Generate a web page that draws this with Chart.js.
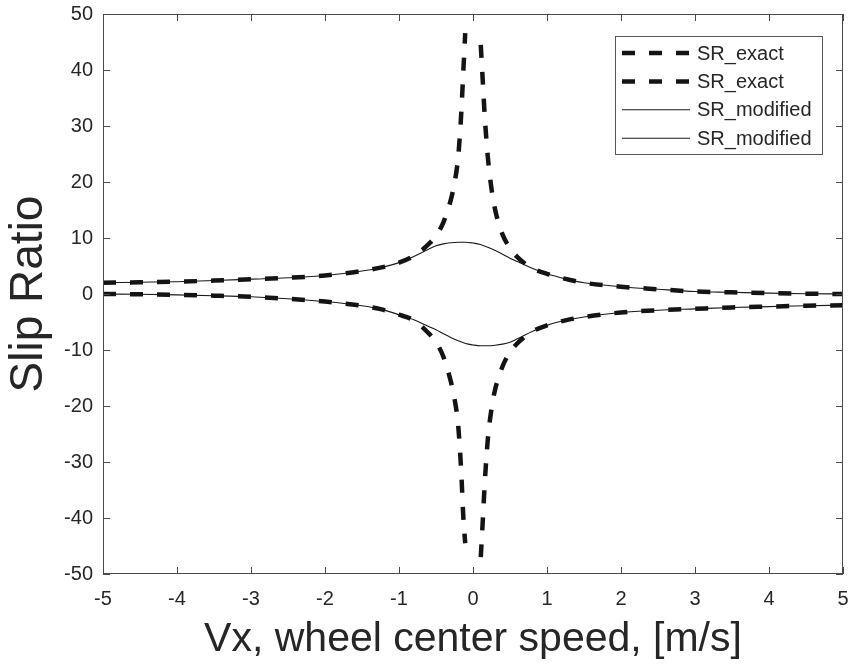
<!DOCTYPE html>
<html>
<head>
<meta charset="utf-8">
<script src="https://cdn.jsdelivr.net/npm/chart.js@4/dist/chart.umd.min.js"></script>
<style>
  html, body { margin: 0; padding: 0; background: #fff; }
  #wrap { width: 849px; height: 666px; }
</style>
</head>
<body>
<div id="wrap"><canvas id="chart" width="849" height="666"></canvas></div>
<script>
// values (null = break between the two branches)
const vxExact = [-5, -4.5, -4, -3.5, -3, -2.5, -2, -1.5, -1.25, -1, -0.8, -0.6, -0.5, -0.4, -0.3, -0.25, -0.2, -0.16, -0.13, -0.105,
  0, 0.105, 0.13, 0.16, 0.2, 0.25, 0.3, 0.4, 0.5, 0.6, 0.8, 1, 1.25, 1.5, 2, 2.5, 3, 3.5, 4, 4.5, 5];
const srExactUpper = [2.0, 2.1, 2.2, 2.4, 2.65, 2.9, 3.3, 4.1, 4.7, 5.6, 6.8, 8.9, 10.4, 12.8, 16.8, 19.8, 24.5, 32, 40, 46.6,
  null, 44.5, 38.5, 31.5, 24.5, 18.8, 15.0, 10.6, 8.2, 6.6, 4.6, 3.6, 2.7, 2.0, 1.3, 0.85, 0.45, 0.3, 0.15, 0.05, 0.0];
const srExactLower = [0.0, -0.05, -0.15, -0.3, -0.5, -0.85, -1.35, -2.1, -2.7, -3.7, -4.7, -7.0, -8.6, -11.2, -15.6, -18.7, -23.5, -31.5, -40, -44.5,
  null, -47, -41, -33.5, -26, -20.5, -17.0, -12.9, -10.4, -8.8, -6.7, -5.6, -4.7, -4.1, -3.3, -2.9, -2.65, -2.4, -2.25, -2.1, -2.0];

const vxModified = [-5, -4.5, -4, -3.5, -3, -2.5, -2, -1.5, -1.25, -1, -0.8, -0.6, -0.5, -0.4, -0.3, -0.2, -0.1,
  0, 0.1, 0.2, 0.3, 0.4, 0.5, 0.6, 0.8, 1, 1.25, 1.5, 2, 2.5, 3, 3.5, 4, 4.5, 5];
const srModifiedUpper = [2.0, 2.1, 2.2, 2.4, 2.65, 2.9, 3.3, 4.1, 4.7, 5.6, 6.7, 8.0, 8.6, 8.95, 9.15, 9.25, 9.25,
  9.1, 8.85, 8.35, 7.75, 7.1, 6.4, 5.8, 4.6, 3.6, 2.7, 2.0, 1.3, 0.85, 0.45, 0.3, 0.15, 0.05, 0.0];
const srModifiedLower = [0.0, -0.05, -0.15, -0.3, -0.5, -0.85, -1.35, -2.1, -2.7, -3.7, -4.6, -5.8, -6.4, -7.1, -7.75, -8.35, -8.85,
  -9.1, -9.25, -9.25, -9.15, -8.95, -8.6, -8.0, -6.7, -5.6, -4.7, -4.1, -3.3, -2.9, -2.65, -2.4, -2.25, -2.1, -2.0];

const xTicks = [-5, -4, -3, -2, -1, 0, 1, 2, 3, 4, 5];
const yTicks = [-50, -40, -30, -20, -10, 0, 10, 20, 30, 40, 50];
const seriesNames = ['SR_exact', 'SR_exact', 'SR_modified', 'SR_modified'];

const FONT = "'Liberation Sans', Arial, Helvetica, sans-serif";
const AXIS_COLOR = '#4a4a4a';
const TEXT_COLOR = '#262626';

const toPoints = (xs, ys) => xs.map((x, i) => ({ x: x, y: ys[i] }));

const dashed = { borderColor: '#141414', borderWidth: 4.5, borderDash: [13, 14], borderCapStyle: 'butt' };
const thin = { borderColor: '#1a1a1a', borderWidth: 1.1, borderDash: [] };

// box + inward ticks on all four sides, like a matlab axes
const axesBox = {
  id: 'axesBox',
  afterDraw(chart) {
    const { ctx, chartArea: a, scales } = chart;
    const len = 7;
    ctx.save();
    ctx.strokeStyle = AXIS_COLOR;
    ctx.lineWidth = 1;
    ctx.strokeRect(a.left + 0.5, a.top + 0.5, a.right - a.left - 1, a.bottom - a.top - 1);
    ctx.beginPath();
    xTicks.forEach(v => {
      const px = Math.round(scales.x.getPixelForValue(v)) + 0.5;
      ctx.moveTo(px, a.bottom); ctx.lineTo(px, a.bottom - len);
      ctx.moveTo(px, a.top); ctx.lineTo(px, a.top + len);
    });
    yTicks.forEach(v => {
      const py = Math.round(scales.y.getPixelForValue(v)) + 0.5;
      ctx.moveTo(a.left, py); ctx.lineTo(a.left + len, py);
      ctx.moveTo(a.right, py); ctx.lineTo(a.right - len, py);
    });
    ctx.stroke();

    // legend box, top right inside the axes
    const bx = a.right - 228, by = a.top + 22, bw = 207, bh = 118;
    ctx.fillStyle = '#fff';
    ctx.fillRect(bx, by, bw, bh);
    ctx.strokeStyle = '#555';
    ctx.strokeRect(bx + 0.5, by + 0.5, bw, bh);
    ctx.font = '20px ' + FONT;
    ctx.textBaseline = 'middle';
    ctx.textAlign = 'left';
    chart.data.datasets.forEach((ds, i) => {
      const y = by + 17 + i * 28.4;
      ctx.beginPath();
      ctx.strokeStyle = ds.borderColor;
      ctx.lineWidth = ds.borderWidth;
      ctx.setLineDash(ds.borderDash || []);
      ctx.lineCap = 'butt';
      ctx.moveTo(bx + 7, y);
      ctx.lineTo(bx + 75, y);
      ctx.stroke();
      ctx.setLineDash([]);
      ctx.fillStyle = TEXT_COLOR;
      ctx.fillText(ds.label, bx + 82, y + 1);
    });
    ctx.restore();
  }
};

const ctx = document.getElementById('chart').getContext('2d');
const chart = new Chart(ctx, {
  type: 'line',
  data: {
    datasets: [
      { label: seriesNames[0], data: toPoints(vxExact, srExactUpper), ...dashed },
      { label: seriesNames[1], data: toPoints(vxExact, srExactLower), ...dashed },
      { label: seriesNames[2], data: toPoints(vxModified, srModifiedUpper), ...thin },
      { label: seriesNames[3], data: toPoints(vxModified, srModifiedLower), ...thin }
    ]
  },
  options: {
    responsive: false,
    animation: false,
    spanGaps: false,
    elements: { point: { radius: 0 }, line: { cubicInterpolationMode: 'monotone' } },
    layout: { padding: { top: 14, right: 6, left: 0, bottom: 0 } },
    plugins: { legend: { display: false }, tooltip: { enabled: false } },
    scales: {
      x: {
        type: 'linear',
        min: -5, max: 5,
        afterFit: s => { s.height = 92; s.paddingLeft = 0; s.paddingRight = 0; },
        afterBuildTicks: s => { s.ticks = xTicks.map(v => ({ value: v })); },
        grid: { display: false, drawTicks: false },
        border: { display: false },
        ticks: { color: TEXT_COLOR, font: { family: FONT, size: 20 }, padding: 13, maxRotation: 0 },
        title: { display: true, text: 'Vx, wheel center speed, [m/s]', color: TEXT_COLOR,
          font: { family: FONT, size: 41 }, padding: { top: 0, bottom: 2 } }
      },
      y: {
        type: 'linear',
        min: -50, max: 50,
        afterFit: s => { s.width = 103; s.paddingTop = 0; s.paddingBottom = 0; },
        afterBuildTicks: s => { s.ticks = yTicks.map(v => ({ value: v })); },
        grid: { display: false, drawTicks: false },
        border: { display: false },
        ticks: { color: TEXT_COLOR, font: { family: FONT, size: 20 }, padding: 10 },
        title: { display: true, text: 'Slip Ratio', color: TEXT_COLOR,
          font: { family: FONT, size: 46 }, padding: { top: 2, bottom: 0 } }
      }
    }
  },
  plugins: [axesBox]
});
</script>
</body>
</html>
